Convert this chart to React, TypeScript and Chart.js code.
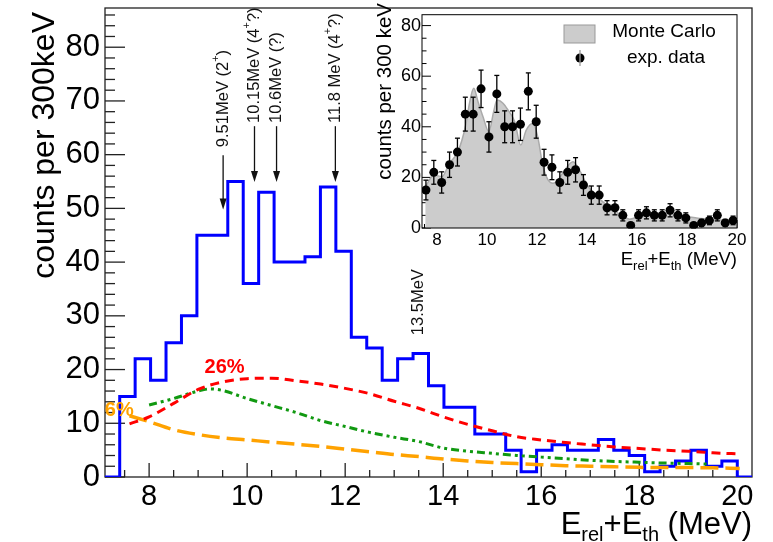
import { useEffect, useRef } from 'react';
import { Chart, registerables } from 'chart.js';

Chart.register(...registerables);

const FONT = '"Liberation Sans", Arial, Helvetica, sans-serif';

// ---- binning of the excitation-energy spectrum (MeV) ----
const binStart = 7.4;
const binWidth = 0.315;
const xMin = 7.1;
const xMax = 20.3;
const yMax = 87.3;

// counts per bin, 40 bins starting at binStart
const counts = [15, 22, 18, 25, 30, 45, 45, 55, 36, 53, 40, 40, 41, 54, 42, 26, 24, 18, 22, 23, 17, 13, 13, 8, 8, 5, 1, 5, 6, 5, 5, 7, 5, 4, 1, 2, 3, 5, 2, 3];
// statistical uncertainty of each bin
const countErrors = [3.9, 4.7, 4.2, 5.0, 5.5, 6.7, 6.7, 7.4, 6.0, 7.3, 6.3, 6.3, 6.4, 7.3, 6.5, 5.1, 4.9, 4.2, 4.7, 4.8, 4.1, 3.6, 3.6, 2.8, 2.8, 2.2, 1.0, 2.2, 2.4, 2.2, 2.2, 2.6, 2.2, 2.0, 1.0, 1.4, 1.7, 2.2, 1.4, 1.7];

// background components
const comp26X = [7.6, 8.0, 8.5, 9.0, 9.5, 10.0, 10.5, 11.0, 11.5, 12.0, 12.5, 13.0, 13.5, 14.0, 14.5, 15.0, 15.5, 16.0, 16.5, 17.0, 17.5, 18.0, 18.5, 19.0, 19.5, 20.05];
const comp26Y = [9.9, 11.2, 13.7, 16.3, 17.7, 18.3, 18.4, 17.9, 17.3, 16.5, 15.5, 14.1, 12.8, 11.2, 9.8, 8.6, 7.5, 6.9, 6.4, 6.0, 5.6, 5.3, 5.0, 4.8, 4.5, 4.3];

const compGreenX = [8.0, 8.5, 9.0, 9.25, 9.5, 10.0, 10.5, 11.0, 11.5, 12.0, 12.5, 13.0, 13.5, 14.0, 14.5, 15.0, 15.5, 16.0, 16.5, 17.0, 17.5, 18.0, 18.5, 19.0, 19.45];
const compGreenY = [13.4, 14.6, 16.0, 16.4, 16.1, 14.6, 13.3, 12.0, 10.5, 9.4, 8.3, 7.4, 6.6, 5.4, 4.8, 4.4, 4.0, 3.7, 3.4, 3.1, 2.9, 2.75, 2.6, 2.5, 2.4];

const comp6X = [7.6, 8.0, 8.5, 9.0, 9.5, 10.0, 10.5, 11.0, 11.5, 12.0, 12.5, 13.0, 13.5, 14.0, 14.5, 15.0, 15.5, 16.0, 16.5, 17.0, 17.5, 18.0, 18.5, 19.0, 19.5, 20.05];
const comp6Y = [11.4, 10.3, 8.8, 7.9, 7.3, 6.9, 6.5, 6.1, 5.7, 5.2, 4.7, 4.2, 3.8, 3.35, 3.0, 2.7, 2.5, 2.3, 2.1, 2.0, 1.9, 1.8, 1.75, 1.75, 1.7, 1.6];

// Monte Carlo simulation (inset)
const mcX = [7.53, 7.88, 8.2, 8.5, 8.84, 9.15, 9.3, 9.47, 9.64, 9.84, 10.07, 10.28, 10.4, 10.64, 10.84, 11.11, 11.35, 11.57, 11.84, 12.04, 12.24, 12.44, 12.64, 12.84, 13.11, 13.44, 13.75, 14.0, 14.25, 14.5, 14.8, 15.3, 15.7, 16.1, 16.6, 17.3, 18.0, 18.5, 19.3, 20.0];
const mcY = [16.3, 20.9, 20.3, 25.6, 30.2, 40.7, 49.3, 55.2, 49.9, 44.0, 38.1, 46.6, 50.6, 49.3, 46.6, 42.0, 32.8, 38.7, 41.4, 35.5, 24.2, 19.0, 17.7, 19.0, 22.9, 26.2, 22.0, 17.0, 14.0, 11.5, 9.0, 5.5, 3.5, 4.5, 5.0, 5.6, 4.5, 3.8, 3.2, 3.2];

// axis tick labels
const mainXTicks = [8, 10, 12, 14, 16, 18, 20];
const mainYTicks = [0, 10, 20, 30, 40, 50, 60, 70, 80];
const insetXTicks = [8, 10, 12, 14, 16, 18, 20];
const insetYTicks = [0, 20, 40, 60, 80];

// level annotations: energy, text pieces, text start, arrow tail, arrow tip (counts)
const levels = [
  { e: 9.51, text: '9.51MeV (2', sup: '+', tail: ')', textFrom: 61.4, arrowFrom: 59.9, arrowTo: 49.8 },
  { e: 10.15, text: '10.15MeV (4', sup: '+', tail: '?)', textFrom: 65.9, arrowFrom: 65.3, arrowTo: 54.9 },
  { e: 10.6, text: '10.6MeV (?)', sup: '', tail: '', textFrom: 65.9, arrowFrom: 65.3, arrowTo: 54.9 },
  { e: 11.8, text: '11.8 MeV (4', sup: '+', tail: '?)', textFrom: 65.9, arrowFrom: 65.3, arrowTo: 54.9 },
];
const level135 = { e: 13.5, text: '13.5MeV', textFrom: 26.4 };

const pct26 = { x: 9.54, y: 20.3, text: '26%' };
const pct6 = { x: 7.39, y: 12.4, text: '6%' };

type Run = { t: string; size: number; dy: number; bold?: boolean };

function drawRuns(ctx: CanvasRenderingContext2D, runs: Run[], x: number, y: number, align: 'left' | 'right' = 'left') {
  let w = 0;
  for (const r of runs) {
    ctx.font = `${r.bold ? 'bold ' : ''}${r.size}px ${FONT}`;
    w += ctx.measureText(r.t).width;
  }
  let cx = align === 'right' ? x - w : x;
  ctx.textAlign = 'left';
  for (const r of runs) {
    ctx.font = `${r.bold ? 'bold ' : ''}${r.size}px ${FONT}`;
    ctx.fillText(r.t, cx, y + r.dy);
    cx += ctx.measureText(r.t).width;
  }
}

function seg(ctx: CanvasRenderingContext2D, x1: number, y1: number, x2: number, y2: number) {
  ctx.beginPath();
  ctx.moveTo(x1, y1);
  ctx.lineTo(x2, y2);
  ctx.stroke();
}

const zip = (xs: number[], ys: number[]) => xs.map((x, i) => ({ x, y: ys[i] }));

function histogramPoints() {
  const pts = [{ x: xMin, y: 0 }];
  counts.forEach((c, i) => pts.push({ x: binStart + i * binWidth, y: c }));
  pts.push({ x: binStart + counts.length * binWidth, y: 0 });
  pts.push({ x: xMax, y: 0 });
  return pts;
}

const binCenters = counts.map((_, i) => binStart + (i + 0.5) * binWidth);

// fixed axis box sizes so the plot frame lands where it should
function fixedBox(size: { width?: number; height?: number }) {
  return (s: any) => {
    if (size.width !== undefined) s.width = size.width;
    if (size.height !== undefined) s.height = size.height;
    s.paddingTop = 0;
    s.paddingBottom = 0;
    s.paddingLeft = 0;
    s.paddingRight = 0;
  };
}

// frame, inward ticks, titles and annotations of the main spectrum
const mainDecor = {
  id: 'mainDecor',
  beforeDatasetsDraw(chart: any) {
    const { ctx, chartArea: a, scales } = chart;
    const xs = scales.x;
    const ys = scales.y;
    ctx.save();
    ctx.strokeStyle = '#222';
    ctx.lineWidth = 1.3;
    ctx.strokeRect(a.left, a.top, a.right - a.left, a.bottom - a.top);
    for (let v = 0; v <= yMax; v += 2) {
      const p = ys.getPixelForValue(v);
      seg(ctx, a.left, p, a.left + (v % 10 === 0 ? 20 : 10), p);
    }
    for (let v = 7.5; v <= xMax; v += 0.5) {
      const p = xs.getPixelForValue(v);
      seg(ctx, p, a.bottom, p, a.bottom - (v % 2 === 0 ? 14 : 7));
    }
    ctx.restore();
  },
  afterDatasetsDraw(chart: any) {
    const { ctx, chartArea: a, scales } = chart;
    const xs = scales.x;
    const ys = scales.y;
    ctx.save();
    ctx.textBaseline = 'alphabetic';

    // level labels with arrows
    ctx.fillStyle = '#111';
    ctx.strokeStyle = '#111';
    ctx.lineWidth = 1.3;
    for (const l of levels) {
      const px = xs.getPixelForValue(l.e);
      const runs: Run[] = [{ t: l.text, size: 16.5, dy: 0 }];
      if (l.sup) runs.push({ t: l.sup, size: 11, dy: -9 });
      if (l.tail) runs.push({ t: l.tail, size: 16.5, dy: 0 });
      ctx.save();
      ctx.translate(px + 4.5, ys.getPixelForValue(l.textFrom));
      ctx.rotate(-Math.PI / 2);
      drawRuns(ctx, runs, 0, 0);
      ctx.restore();
      const y1 = ys.getPixelForValue(l.arrowFrom);
      const y2 = ys.getPixelForValue(l.arrowTo);
      seg(ctx, px, y1, px, y2 - 8);
      ctx.beginPath();
      ctx.moveTo(px, y2);
      ctx.lineTo(px - 3.5, y2 - 11);
      ctx.lineTo(px + 3.5, y2 - 11);
      ctx.closePath();
      ctx.fill();
    }
    {
      const px = xs.getPixelForValue(level135.e);
      ctx.save();
      ctx.translate(px + 4.5, ys.getPixelForValue(level135.textFrom));
      ctx.rotate(-Math.PI / 2);
      drawRuns(ctx, [{ t: level135.text, size: 16.5, dy: 0 }], 0, 0);
      ctx.restore();
    }

    // component fractions
    ctx.textAlign = 'center';
    ctx.textBaseline = 'middle';
    ctx.font = `bold 20px ${FONT}`;
    ctx.fillStyle = '#ff0000';
    ctx.fillText(pct26.text, xs.getPixelForValue(pct26.x), ys.getPixelForValue(pct26.y));
    ctx.fillStyle = '#ffa200';
    ctx.fillText(pct6.text, xs.getPixelForValue(pct6.x), ys.getPixelForValue(pct6.y));

    // axis titles
    ctx.fillStyle = '#000';
    ctx.textBaseline = 'alphabetic';
    ctx.save();
    ctx.translate(54, 12);
    ctx.rotate(-Math.PI / 2);
    ctx.textAlign = 'right';
    ctx.font = `32px ${FONT}`;
    ctx.fillText('counts per 300keV', 0, 0);
    ctx.restore();

    drawRuns(
      ctx,
      [
        { t: 'E', size: 31, dy: 0 },
        { t: 'rel', size: 20, dy: 7 },
        { t: '+E', size: 31, dy: 0 },
        { t: 'th', size: 20, dy: 7 },
        { t: ' (MeV)', size: 31, dy: 0 },
      ],
      a.right,
      534,
      'right'
    );
    ctx.restore();
  },
};

// frame, ticks, error bars, legend and titles of the inset
const insetDecor = {
  id: 'insetDecor',
  beforeDatasetsDraw(chart: any) {
    const { ctx, chartArea: a, scales } = chart;
    const xs = scales.x;
    const ys = scales.y;
    ctx.save();
    ctx.strokeStyle = '#000';
    ctx.lineWidth = 1;
    for (let v = 0; v <= 84; v += 5) {
      const p = ys.getPixelForValue(v);
      seg(ctx, a.left, p, a.left + (v % 20 === 0 ? 9 : 4.5), p);
    }
    for (let v = 7.5; v <= 20; v += 0.5) {
      const p = xs.getPixelForValue(v);
      seg(ctx, p, a.bottom, p, a.bottom - (v % 2 === 0 ? 8 : 4));
    }
    ctx.restore();
  },
  afterDatasetDraw(chart: any, args: any) {
    if (args.index !== 1) return;
    const { ctx, scales } = chart;
    const xs = scales.x;
    const ys = scales.y;
    ctx.save();
    ctx.strokeStyle = '#000';
    ctx.lineWidth = 1.3;
    counts.forEach((c, i) => {
      const px = xs.getPixelForValue(binCenters[i]);
      const top = ys.getPixelForValue(c + countErrors[i]);
      const bot = ys.getPixelForValue(Math.max(0, c - countErrors[i]));
      seg(ctx, px, top, px, bot);
      seg(ctx, px - 2.5, top, px + 2.5, top);
      seg(ctx, px - 2.5, bot, px + 2.5, bot);
    });
    ctx.restore();
  },
  afterDraw(chart: any) {
    const { ctx, chartArea: a } = chart;
    ctx.save();
    ctx.strokeStyle = '#000';
    ctx.lineWidth = 1;
    ctx.strokeRect(a.left, a.top, a.right - a.left, a.bottom - a.top);

    // legend
    ctx.fillStyle = '#cccccc';
    ctx.fillRect(194, 25, 31, 18);
    ctx.strokeStyle = '#999';
    ctx.strokeRect(194, 25, 31, 18);
    ctx.fillStyle = '#000';
    ctx.font = `19px ${FONT}`;
    ctx.textAlign = 'center';
    ctx.textBaseline = 'middle';
    ctx.fillText('Monte Carlo', 294, 32);
    ctx.fillText('exp. data', 296, 58);
    ctx.beginPath();
    ctx.arc(210, 58, 4.5, 0, Math.PI * 2);
    ctx.fill();
    ctx.lineWidth = 1.3;
    seg(ctx, 210, 50, 210, 66);

    // titles
    ctx.textBaseline = 'alphabetic';
    ctx.save();
    ctx.translate(21, 3);
    ctx.rotate(-Math.PI / 2);
    ctx.textAlign = 'right';
    ctx.font = `20.5px ${FONT}`;
    ctx.fillText('counts per 300 keV', 0, 0);
    ctx.restore();
    drawRuns(
      ctx,
      [
        { t: 'E', size: 18.5, dy: 0 },
        { t: 'rel', size: 13, dy: 5 },
        { t: '+E', size: 18.5, dy: 0 },
        { t: 'th', size: 13, dy: 5 },
        { t: ' (MeV)', size: 18.5, dy: 0 },
      ],
      a.right,
      265,
      'right'
    );
    ctx.restore();
  },
};

function mainConfig(): any {
  const curve = { pointRadius: 0, fill: false, cubicInterpolationMode: 'monotone' };
  return {
    type: 'line',
    data: {
      datasets: [
        { ...curve, label: '26%', data: zip(comp26X, comp26Y), borderColor: '#ff0000', borderWidth: 3, borderDash: [9, 6], order: 1 },
        { ...curve, label: 'green', data: zip(compGreenX, compGreenY), borderColor: '#119911', borderWidth: 3, borderDash: [8, 4, 3, 4, 3, 4], order: 2 },
        { ...curve, label: '6%', data: zip(comp6X, comp6Y), borderColor: '#ffa200', borderWidth: 3.5, borderDash: [18, 7], order: 3 },
        { label: 'data', data: histogramPoints(), stepped: 'before', borderColor: '#0000ff', borderWidth: 3, pointRadius: 0, fill: false, order: 4 },
      ],
    },
    options: {
      responsive: false,
      animation: false,
      devicePixelRatio: 1,
      events: [],
      layout: { padding: { left: 0, top: 8, right: 21, bottom: 0 } },
      plugins: { legend: { display: false }, tooltip: { enabled: false } },
      scales: {
        x: {
          type: 'linear',
          min: xMin,
          max: xMax,
          grid: { display: false, drawTicks: false },
          border: { display: false },
          afterBuildTicks: (s: any) => {
            s.ticks = mainXTicks.map((v) => ({ value: v }));
          },
          afterFit: fixedBox({ height: 65 }),
          ticks: { color: '#000', font: { family: FONT, size: 29 }, padding: 3, maxRotation: 0, autoSkip: false },
        },
        y: {
          type: 'linear',
          min: 0,
          max: yMax,
          grid: { display: false, drawTicks: false },
          border: { display: false },
          afterBuildTicks: (s: any) => {
            s.ticks = mainYTicks.map((v) => ({ value: v }));
          },
          afterFit: fixedBox({ width: 105 }),
          ticks: { color: '#000', font: { family: FONT, size: 31 }, padding: 5, autoSkip: false },
        },
      },
    },
    plugins: [mainDecor],
  };
}

function insetConfig(): any {
  return {
    type: 'line',
    data: {
      datasets: [
        {
          label: 'exp. data',
          data: zip(binCenters, counts),
          showLine: false,
          pointRadius: 4.5,
          pointBackgroundColor: '#000',
          pointBorderWidth: 0,
        },
        {
          label: 'Monte Carlo',
          data: zip(mcX, mcY),
          borderColor: '#aaaaaa',
          borderWidth: 1.5,
          backgroundColor: '#cccccc',
          fill: 'origin',
          pointRadius: 0,
          cubicInterpolationMode: 'monotone',
        },
      ],
    },
    options: {
      responsive: false,
      animation: false,
      devicePixelRatio: 1,
      events: [],
      layout: { padding: { left: 0, top: 14.7, right: 13, bottom: 0 } },
      plugins: { legend: { display: false }, tooltip: { enabled: false } },
      scales: {
        x: {
          type: 'linear',
          min: 7.4,
          max: 20.0,
          grid: { display: false, drawTicks: false },
          border: { display: false },
          afterBuildTicks: (s: any) => {
            s.ticks = insetXTicks.map((v) => ({ value: v }));
          },
          afterFit: fixedBox({ height: 57 }),
          ticks: { color: '#000', font: { family: FONT, size: 17 }, padding: 2, maxRotation: 0, autoSkip: false },
        },
        y: {
          type: 'linear',
          min: 0,
          max: 84.3,
          grid: { display: false, drawTicks: false },
          border: { display: false },
          afterBuildTicks: (s: any) => {
            s.ticks = insetYTicks.map((v) => ({ value: v }));
          },
          afterFit: fixedBox({ width: 52 }),
          ticks: { color: '#000', font: { family: FONT, size: 18 }, padding: 1, autoSkip: false },
        },
      },
    },
    plugins: [insetDecor],
  };
}

export default function App() {
  const mainRef = useRef<HTMLCanvasElement>(null);
  const insetRef = useRef<HTMLCanvasElement>(null);

  useEffect(() => {
    const main = new Chart(mainRef.current as HTMLCanvasElement, mainConfig());
    const inset = new Chart(insetRef.current as HTMLCanvasElement, insetConfig());
    return () => {
      main.destroy();
      inset.destroy();
    };
  }, []);

  return (
    <div style={{ position: 'absolute', left: 0, top: 0, width: 773, height: 542, background: '#fff', overflow: 'hidden' }}>
      <canvas ref={mainRef} width={773} height={542} style={{ position: 'absolute', left: 0, top: 0 }} />
      <canvas ref={insetRef} width={380} height={285} style={{ position: 'absolute', left: 370, top: 0 }} />
    </div>
  );
}
